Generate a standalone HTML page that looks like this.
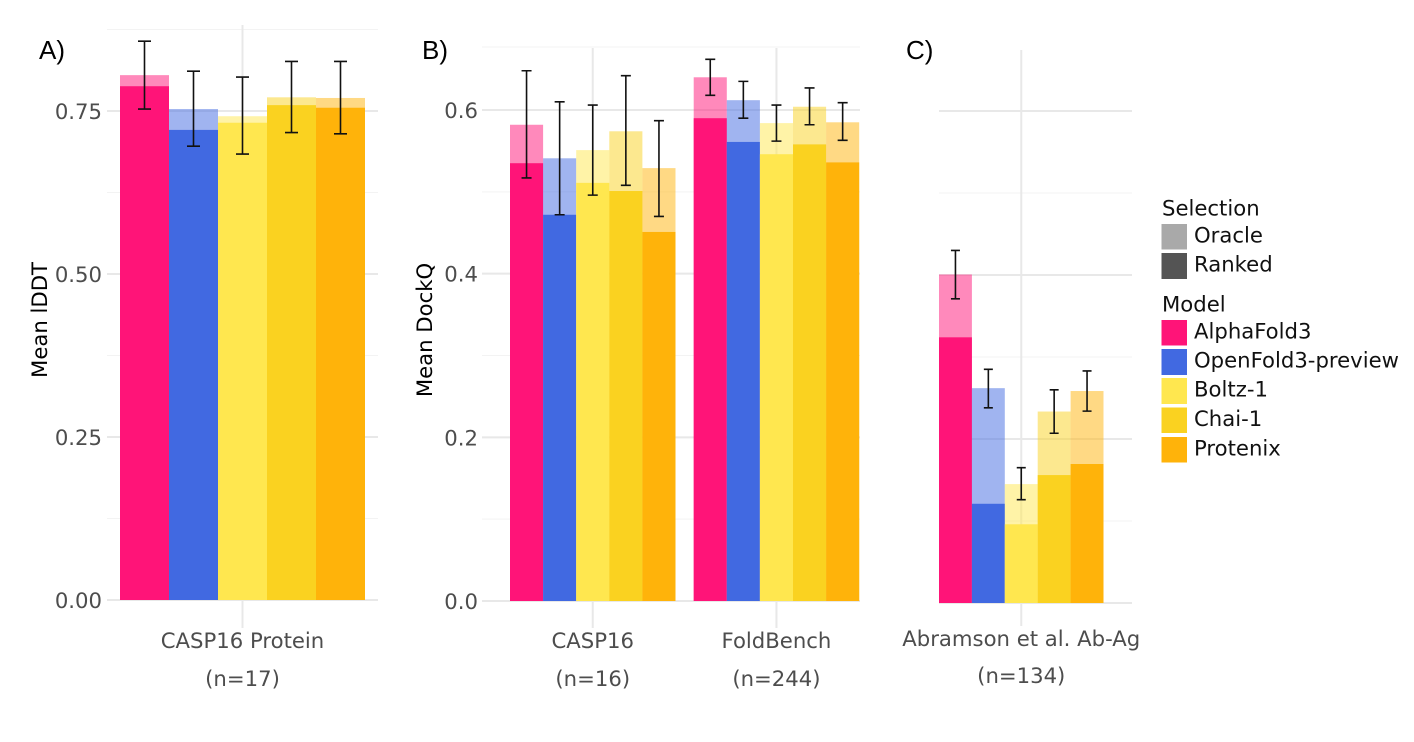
<!DOCTYPE html>
<html lang="en">
<head>
<meta charset="utf-8">
<title>Model comparison bar charts</title>
<style>
html,body{margin:0;padding:0;background:#fff;}
svg{display:block;}
text{font-family:"DejaVu Sans",sans-serif;}
.tick{font-size:21.2px;fill:#4d4d4d;}
.axt{font-size:21.2px;fill:#000;}
.leg{font-size:21.2px;fill:#111;}
.pl{font-family:"Liberation Sans",sans-serif;font-size:26px;fill:#000;}
</style>
</head>
<body>
<svg id="fig" width="1414" height="742" viewBox="0 0 1414 742" xmlns="http://www.w3.org/2000/svg">
  <text class="pl" x="39" y="59">A)</text>
  <text class="pl" x="422" y="59">B)</text>
  <text class="pl" x="906" y="59">C)</text>
  <text class="axt" transform="translate(47,320) rotate(-90)" text-anchor="middle">Mean lDDT</text>
  <text class="axt" transform="translate(432,330) rotate(-90)" text-anchor="middle">Mean DockQ</text>
  <g id="plots"></g>
  <g id="legend">
    <text class="leg" x="1162" y="215.5">Selection</text>
    <rect x="1161.5" y="224" width="25.5" height="25.5" fill="#a9a9a9"/>
    <text class="leg" x="1194" y="242.5">Oracle</text>
    <rect x="1161.5" y="253" width="25.5" height="26" fill="#545454"/>
    <text class="leg" x="1194" y="271.5">Ranked</text>
    <text class="leg" x="1162" y="311.5">Model</text>
    <rect x="1161.5" y="320" width="25.5" height="25.5" fill="#ff1478"/>
    <text class="leg" x="1194" y="338.5">AlphaFold3</text>
    <rect x="1161.5" y="349" width="25.5" height="26" fill="#4169e1"/>
    <text class="leg" x="1194" y="367.5">OpenFold3-preview</text>
    <rect x="1161.5" y="378" width="25.5" height="26" fill="#ffe74f"/>
    <text class="leg" x="1194" y="396.5">Boltz-1</text>
    <rect x="1161.5" y="407.5" width="25.5" height="25.5" fill="#fad220"/>
    <text class="leg" x="1194" y="426">Chai-1</text>
    <rect x="1161.5" y="437" width="25.5" height="25.5" fill="#ffb30a"/>
    <text class="leg" x="1194" y="455.5">Protenix</text>
  </g>
</svg>
<script>
const models = ['alphafold3', 'openfold3-preview', 'boltz-1', 'chai-1', 'protenix'];
const modelColors = ['#ff1478', '#4169e1', '#ffe74f', '#fad220', '#ffb30a'];

const casp16ProteinOracle = [0.805, 0.753, 0.742, 0.771, 0.770];
const casp16ProteinRanked = [0.788, 0.721, 0.732, 0.759, 0.755];
const casp16ProteinLow = [0.753, 0.696, 0.684, 0.717, 0.715];
const casp16ProteinHigh = [0.857, 0.811, 0.802, 0.826, 0.826];

const casp16Oracle = [0.582, 0.541, 0.551, 0.574, 0.529];
const casp16Ranked = [0.535, 0.472, 0.511, 0.501, 0.451];
const casp16Low = [0.517, 0.472, 0.496, 0.508, 0.470];
const casp16High = [0.648, 0.610, 0.606, 0.642, 0.587];

const foldBenchOracle = [0.640, 0.612, 0.584, 0.604, 0.585];
const foldBenchRanked = [0.590, 0.561, 0.546, 0.558, 0.536];
const foldBenchLow = [0.618, 0.590, 0.562, 0.582, 0.563];
const foldBenchHigh = [0.662, 0.635, 0.606, 0.627, 0.609];

const abAgOracle = [0.4006, 0.262, 0.145, 0.2335, 0.2585];
const abAgRanked = [0.324, 0.121, 0.096, 0.156, 0.1695];
const abAgLow = [0.371, 0.238, 0.126, 0.207, 0.234];
const abAgHigh = [0.430, 0.285, 0.165, 0.260, 0.283];

const panelATicks = ['0.00', '0.25', '0.50', '0.75'];
const panelBTicks = ['0.0', '0.2', '0.4', '0.6'];
const panelCTicks = ['0.0', '0.2', '0.4', '0.6'];
const panelAMinorTicks = [0.125, 0.375, 0.625, 0.875];
const panelBMinorTicks = [0.1, 0.3, 0.5, 0.677];
const panelCMinorTicks = [0.1, 0.3, 0.5];

const NS = 'http://www.w3.org/2000/svg';
const plots = document.getElementById('plots');

function add(tag, attrs, parent) {
  const el = document.createElementNS(NS, tag);
  for (const k in attrs) el.setAttribute(k, attrs[k]);
  (parent || plots).appendChild(el);
  return el;
}

function yScale(y0, unit) {
  return function (v) { return y0 - v * unit; };
}

function drawPanel(p) {
  const y = yScale(p.y0, p.unit);
  const g = add('g', {});
  
  

  p.minor.forEach(function (v) {
    const line = add('line', { x1: p.gridX0, x2: p.gridX1, y1: y(v), y2: y(v), stroke: '#f3f3f3', 'stroke-width': 1 }, g);
    
    
  });

  p.ticks.forEach(function (t) {
    const v = parseFloat(t);
    const line = add('line', { x1: p.gridX0, x2: p.gridX1, y1: y(v), y2: y(v), stroke: '#e8e8e8', 'stroke-width': 2 }, g);
    
    
    if (p.showLabels) {
      const label = add('text', { x: p.tickX, y: y(v) + 8, 'text-anchor': 'end', class: 'tick' }, g);
      
      
      label.textContent = t;
    }
  });

  p.groups.forEach(function (grp) {
    const cx = grp.x0 + grp.bw * 2.5;
    const vline = add('line', { x1: cx, x2: cx, y1: p.vTop, y2: p.vBottom, stroke: '#e8e8e8', 'stroke-width': 2 }, g);
    
    
  });

  p.groups.forEach(function (grp) {
    const cx = grp.x0 + grp.bw * 2.5;
    models.forEach(function (m, i) {
      const x = grp.x0 + i * grp.bw;
      const oracle = add('rect', { x: x, y: y(grp.oracle[i]), width: grp.bw, height: p.y0 - y(grp.oracle[i]), fill: modelColors[i], 'fill-opacity': 0.5 }, g);
      
      
      const ranked = add('rect', { x: x, y: y(grp.ranked[i]), width: grp.bw, height: p.y0 - y(grp.ranked[i]), fill: modelColors[i] }, g);
      
      
    });
    models.forEach(function (m, i) {
      const ex = grp.x0 + (i + 0.5) * grp.bw;
      const yl = y(grp.low[i]);
      const yh = y(grp.high[i]);
      const err = add('path', {
        d: 'M' + (ex - p.cap) + ' ' + yh + 'H' + (ex + p.cap) + 'M' + ex + ' ' + yh + 'V' + yl + 'M' + (ex - p.cap) + ' ' + yl + 'H' + (ex + p.cap),
        fill: 'none', stroke: '#111', 'stroke-width': 1.6
      }, g);
      
      
    });
    const l1 = add('text', { x: cx, y: p.labelY1, 'text-anchor': 'middle', class: 'tick' }, g);
    
    
    l1.textContent = grp.label;
    const l2 = add('text', { x: cx, y: p.labelY2, 'text-anchor': 'middle', class: 'tick' }, g);
    
    
    l2.textContent = grp.n;
  });
}

drawPanel({
  name: 'panel-a-chart', y0: 600, unit: 652, gridX0: 107, gridX1: 378, tickX: 102, vTop: 25, vBottom: 628,
  cap: 6.5, labelY1: 648, labelY2: 686, ticks: panelATicks, minor: panelAMinorTicks, showLabels: true,
  groups: [
    { x0: 120, bw: 49, label: 'CASP16 Protein', n: '(n=17)', oracle: casp16ProteinOracle, ranked: casp16ProteinRanked, low: casp16ProteinLow, high: casp16ProteinHigh }
  ]
});

drawPanel({
  name: 'panel-b-chart', y0: 601, unit: 818.3, gridX0: 482, gridX1: 860, tickX: 478, vTop: 48, vBottom: 628,
  cap: 5, labelY1: 648, labelY2: 686, ticks: panelBTicks, minor: panelBMinorTicks, showLabels: true,
  groups: [
    { x0: 510, bw: 33.1, label: 'CASP16', n: '(n=16)', oracle: casp16Oracle, ranked: casp16Ranked, low: casp16Low, high: casp16High },
    { x0: 693.7, bw: 33.1, label: 'FoldBench', n: '(n=244)', oracle: foldBenchOracle, ranked: foldBenchRanked, low: foldBenchLow, high: foldBenchHigh }
  ]
});

drawPanel({
  name: 'panel-c-chart', y0: 603, unit: 820, gridX0: 939, gridX1: 1132, tickX: 935, vTop: 50, vBottom: 626,
  cap: 4.5, labelY1: 646, labelY2: 683, ticks: panelCTicks, minor: panelCMinorTicks, showLabels: false,
  groups: [
    { x0: 939, bw: 32.9, label: 'Abramson et al. Ab-Ag', n: '(n=134)', oracle: abAgOracle, ranked: abAgRanked, low: abAgLow, high: abAgHigh }
  ]
});
</script>
</body>
</html>
